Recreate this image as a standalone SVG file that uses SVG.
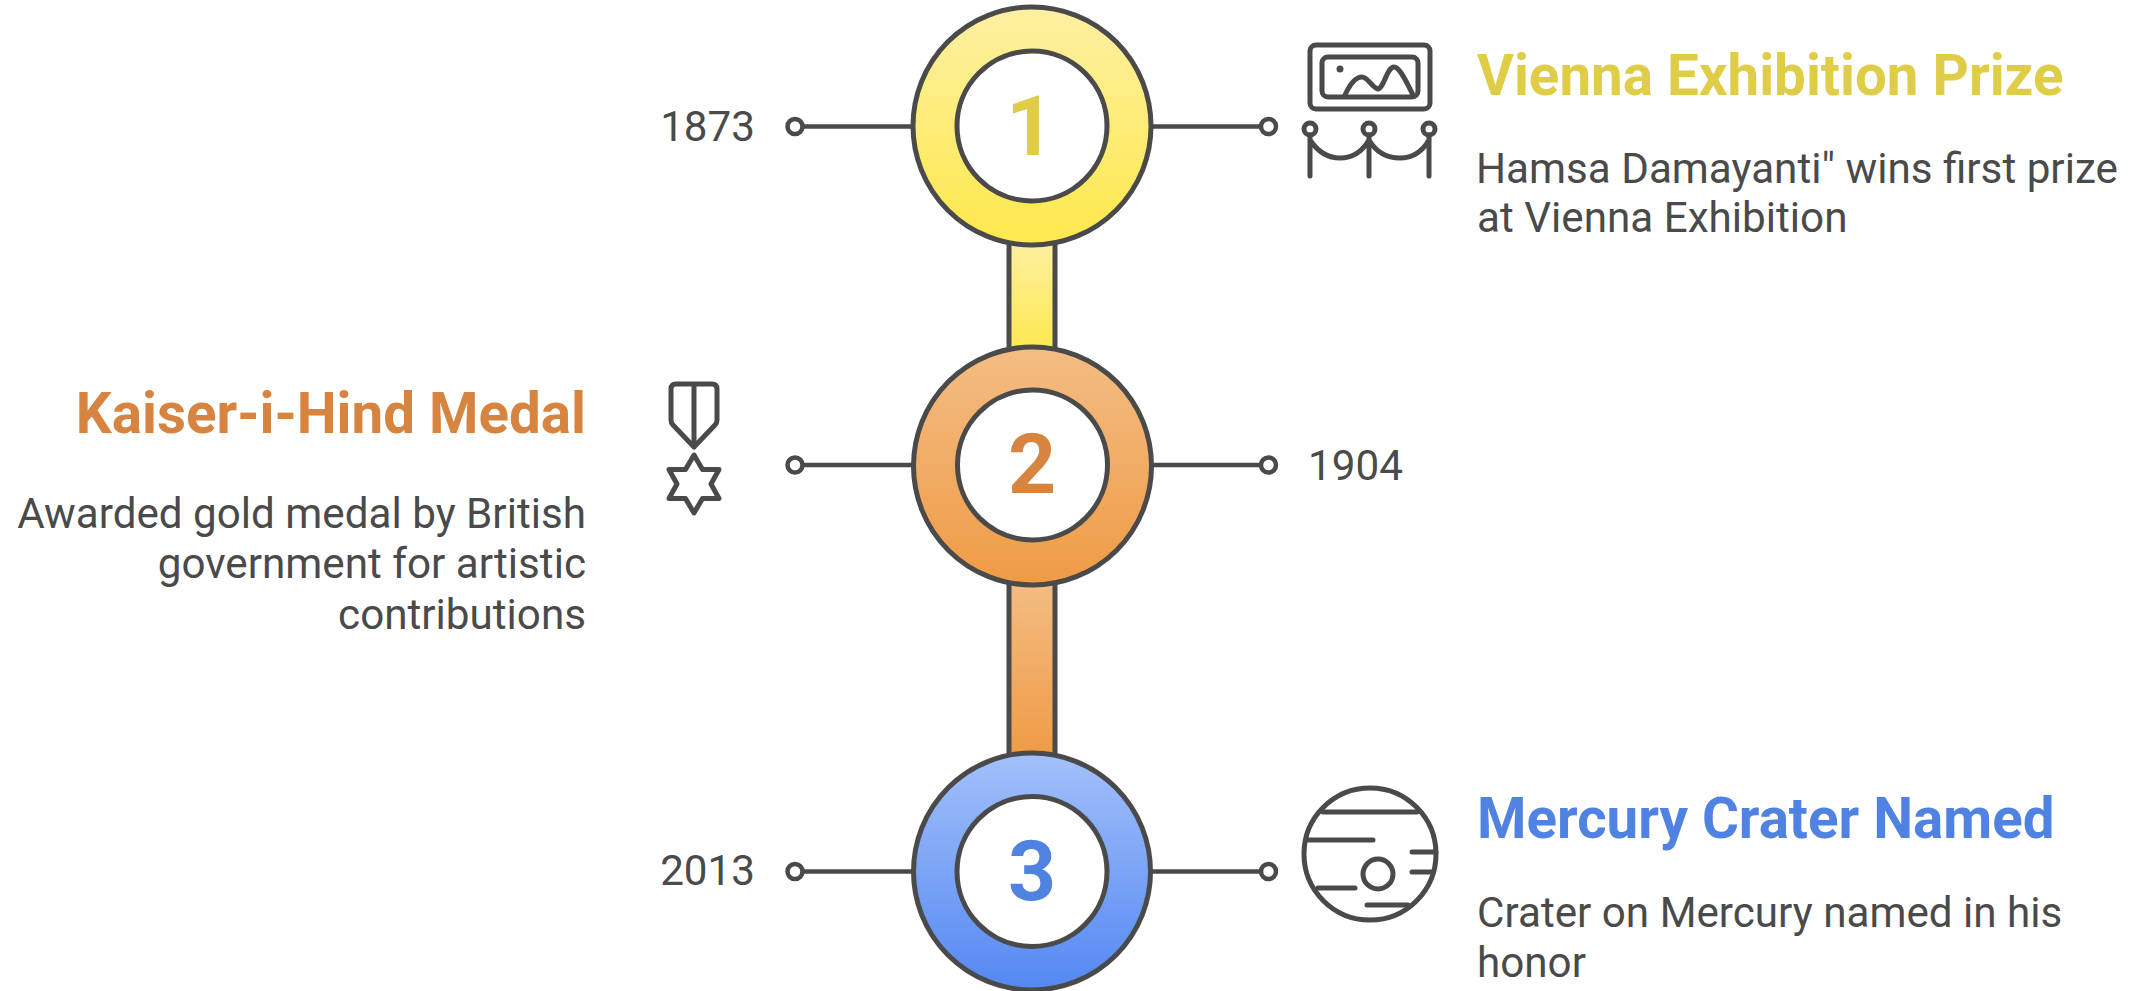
<svg xmlns="http://www.w3.org/2000/svg" width="2145" height="991" viewBox="0 0 2145 991">
<defs>
<linearGradient id="gy" x1="0" y1="0" x2="0" y2="1"><stop offset="0" stop-color="#fdf0a2"/><stop offset="1" stop-color="#fde84c"/></linearGradient>
<linearGradient id="go" x1="0" y1="0" x2="0" y2="1"><stop offset="0" stop-color="#f3bd84"/><stop offset="1" stop-color="#ef9b45"/></linearGradient>
<linearGradient id="gb" x1="0" y1="0" x2="0" y2="1"><stop offset="0" stop-color="#a3c0fa"/><stop offset="1" stop-color="#5488f2"/></linearGradient>
</defs>
<style>
.ln{fill:none;stroke:#4a4a4a;stroke-width:4.5;stroke-linecap:round;stroke-linejoin:round}
.ic{fill:none;stroke:#4a4a4a;stroke-width:5;stroke-linecap:round;stroke-linejoin:round}
.ring{stroke:#4a4a4a;stroke-width:5}
.inner{fill:#fff;stroke:#4a4a4a;stroke-width:5}
.dot{fill:#fff;stroke:#4a4a4a;stroke-width:4.5}
text{font-family:Roboto,"Liberation Sans",sans-serif}
.t{font-size:56.500px;font-weight:700}
.b{font-size:42.200px;fill:#4a4a4a}
.n{font-size:84px;font-weight:700;text-anchor:middle}
.y{fill:#dfcd48}.o{fill:#d6843f}.u{fill:#5082e2}
</style>
<g id="connectors">
<rect x="1009" y="240" width="46" height="115" fill="url(#gy)" class="ring"/>
<rect x="1009" y="580" width="46" height="178" fill="url(#go)" class="ring"/>
<path class="ln" d="M912 126.500H803M1152 126.500H1261M912 465H803M1152 465H1261M912 871.500H803M1152 871.500H1261"/>
<circle class="dot" cx="795" cy="126.500" r="7.500"/><circle class="dot" cx="1268.500" cy="126.500" r="7.500"/>
<circle class="dot" cx="795" cy="465" r="7.500"/><circle class="dot" cx="1268.500" cy="465" r="7.500"/>
<circle class="dot" cx="795" cy="871.500" r="7.500"/><circle class="dot" cx="1268.500" cy="871.500" r="7.500"/>
</g>
<g id="node1">
<circle class="ring" cx="1032" cy="126" r="119" fill="url(#gy)"/><circle class="inner" cx="1032" cy="126" r="75"/>
<text class="n y" x="1030" y="155">1</text>
<text class="b" x="755" y="141" text-anchor="end">1873</text>
<g id="icon1"><rect class="ic" x="1310" y="45" width="120" height="64" rx="6"/><rect class="ic" x="1322" y="57" width="96" height="40" rx="6"/><circle cx="1340" cy="69" r="3.500" fill="#4a4a4a"/><path class="ic" d="M1345 95C1350 84 1356 77 1362 77C1368 77 1372 88 1378 89C1384 88 1387 67 1394 67C1400 67 1408 85 1413 95"/><circle class="ic" cx="1310" cy="129" r="6"/><circle class="ic" cx="1369" cy="129" r="6"/><circle class="ic" cx="1429" cy="129" r="6"/><path class="ic" d="M1310 135V176M1369 135V176M1429 135V176M1310 140C1318 152 1328 158 1340 158C1352 158 1362 152 1369 140C1376 152 1386 158 1400 158C1412 158 1422 152 1429 140"/></g>
<text class="t y" x="1477" y="95">Vienna Exhibition Prize</text>
<text class="b" x="1476" y="183">Hamsa Damayanti" wins first prize</text>
<text class="b" x="1477" y="232">at Vienna Exhibition</text>
</g>
<g id="node2">
<circle class="ring" cx="1032.500" cy="466" r="119" fill="url(#go)"/><circle class="inner" cx="1032.500" cy="465" r="75"/>
<text class="n o" x="1032" y="493">2</text>
<text class="b" x="1308" y="480">1904</text>
<g id="icon2"><path class="ic" d="M694 385V447M676 384H712Q717 384 717 389V420Q717 423 715 425L694 447L673 425Q671 423 671 420V389Q671 384 676 384Z"/><path class="ic" d="M694 455L702.500 469.500H719L711 484L719 498.500H702.500L694 513L685.500 498.500H669L677 484L669 469.500H685.500Z"/></g>
<text class="t o" x="586" y="433" text-anchor="end">Kaiser-i-Hind Medal</text>
<text class="b" x="586" y="528" text-anchor="end">Awarded gold medal by British</text>
<text class="b" x="586" y="578" text-anchor="end">government for artistic</text>
<text class="b" x="586" y="629" text-anchor="end">contributions</text>
</g>
<g id="node3">
<circle class="ring" cx="1032" cy="871.500" r="118.500" fill="url(#gb)"/><circle class="inner" cx="1032" cy="871.500" r="75"/>
<text class="n u" x="1032" y="900">3</text>
<text class="b" x="755" y="885" text-anchor="end">2013</text>
<g id="icon3"><circle class="ic" cx="1370" cy="854" r="66"/><circle class="ic" cx="1378" cy="874" r="15"/><path class="ic" d="M1323 812H1417M1308 840H1373M1412 852H1436M1412 872H1433M1318 888H1355M1367 905H1408"/></g>
<text class="t u" x="1477" y="838">Mercury Crater Named</text>
<text class="b" x="1477" y="927">Crater on Mercury named in his</text>
<text class="b" x="1477" y="977">honor</text>
</g>
</svg>
